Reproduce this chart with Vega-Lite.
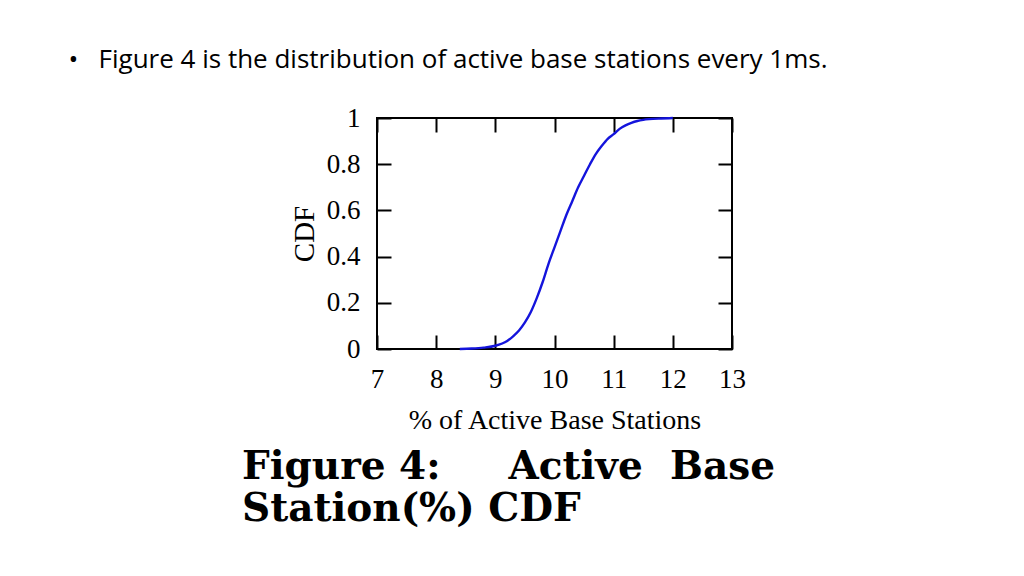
{
  "$schema": "https://vega.github.io/schema/vega-lite/v6.json",
  "width": 355,
  "height": 231,
  "autosize": {"type": "none"},
  "padding": {"left": 377, "top": 118, "right": 292, "bottom": 227},
  "background": "white",
  "config": {
    "view": {"stroke": "black", "strokeWidth": 2},
    "axis": {
      "domain": false,
      "grid": false,
      "tickColor": "black",
      "tickWidth": 2,
      "tickSize": -14,
      "labelColor": "black",
      "labelFont": "Liberation Serif",
      "labelFontSize": 27,
      "titleColor": "black",
      "titleFont": "Liberation Serif",
      "titleFontSize": 28,
      "titleFontWeight": "normal"
    }
  },
  "title": {
    "text": ["Figure 4:\u00a0\u00a0\u00a0\u00a0\u00a0Active\u00a0\u00a0Base", "Station(%) CDF"],
    "orient": "bottom",
    "anchor": "start",
    "frame": "group",
    "dx": -135,
    "offset": 14,
    "font": "DejaVu Serif",
    "fontSize": 39,
    "fontWeight": "bold",
    "color": "black",
    "lineHeight": 42,
    "baseline": "top"
  },
  "data": {
    "values": [
      {"pct": 8.4, "cdf": 0.0},
      {"pct": 8.6, "cdf": 0.002},
      {"pct": 8.8, "cdf": 0.006},
      {"pct": 9.0, "cdf": 0.014},
      {"pct": 9.2, "cdf": 0.035},
      {"pct": 9.3, "cdf": 0.055},
      {"pct": 9.4, "cdf": 0.08},
      {"pct": 9.5, "cdf": 0.115},
      {"pct": 9.6, "cdf": 0.16},
      {"pct": 9.7, "cdf": 0.22},
      {"pct": 9.8, "cdf": 0.29},
      {"pct": 9.9, "cdf": 0.37},
      {"pct": 10.0, "cdf": 0.44},
      {"pct": 10.1, "cdf": 0.51},
      {"pct": 10.2, "cdf": 0.58},
      {"pct": 10.3, "cdf": 0.64},
      {"pct": 10.4, "cdf": 0.70},
      {"pct": 10.5, "cdf": 0.75},
      {"pct": 10.6, "cdf": 0.80},
      {"pct": 10.7, "cdf": 0.845},
      {"pct": 10.8, "cdf": 0.88},
      {"pct": 10.9, "cdf": 0.91},
      {"pct": 11.0, "cdf": 0.93},
      {"pct": 11.1, "cdf": 0.953},
      {"pct": 11.2, "cdf": 0.968},
      {"pct": 11.3, "cdf": 0.979},
      {"pct": 11.4, "cdf": 0.987},
      {"pct": 11.5, "cdf": 0.992},
      {"pct": 11.6, "cdf": 0.995},
      {"pct": 11.8, "cdf": 0.998},
      {"pct": 12.0, "cdf": 1.0}
    ]
  },
  "layer": [
    {
      "mark": {"type": "line", "color": "#1414dc", "strokeWidth": 2.4, "interpolate": "monotone"},
      "encoding": {
        "x": {
          "field": "pct", "type": "quantitative",
          "scale": {"domain": [7, 13], "nice": false, "zero": false},
          "axis": {"orient": "bottom", "values": [7, 8, 9, 10, 11, 12, 13], "labelPadding": 31, "labelDx": 3, "labelFlush": false, "labelOverlap": false,
            "title": "% of Active Base Stations", "titleBaseline": "alphabetic", "titleAnchor": "middle", "titleY": 79}
        },
        "y": {
          "field": "cdf", "type": "quantitative",
          "scale": {"domain": [0, 1], "nice": false},
          "axis": {"orient": "left", "values": [0, 0.2, 0.4, 0.6, 0.8, 1], "format": "~g", "labelPadding": 31, "labelFlush": false, "labelOverlap": false,
            "title": "CDF", "titleFontSize": 29, "titleAngle": 270, "titleAlign": "center", "titleBaseline": "alphabetic", "titleX": -64, "titleY": 115.5}
        }
      }
    },
    {
      "mark": {"type": "line", "opacity": 0},
      "encoding": {
        "x": {
          "field": "pct", "type": "quantitative",
          "scale": {"domain": [7, 13], "nice": false, "zero": false},
          "axis": {"orient": "top", "values": [7, 8, 9, 10, 11, 12, 13], "labels": false,
            "title": "\u2022\u00a0\u00a0\u00a0Figure 4 is the distribution of active base stations every 1ms.",
            "titleFont": "Open Sans", "titleFontSize": 26, "titleAnchor": "start", "titleAlign": "left", "titleBaseline": "alphabetic", "titleX": -309, "titleY": -51}
        },
        "y": {
          "field": "cdf", "type": "quantitative",
          "scale": {"domain": [0, 1], "nice": false},
          "axis": {"orient": "right", "values": [0, 0.2, 0.4, 0.6, 0.8, 1], "labels": false, "title": null}
        }
      }
    }
  ],
  "resolve": {"axis": {"x": "independent", "y": "independent"}}
}
